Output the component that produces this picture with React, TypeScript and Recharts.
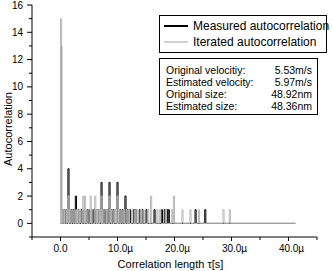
import React from "react";
import { LineChart, Line, XAxis, YAxis } from "recharts";

// peak positions in microseconds and their heights
const measuredTimes = [
  0.0, 0.3, 0.6, 0.9, 1.3, 1.8, 2.2, 2.6, 3.1, 3.6, 4.1, 4.6, 4.9, 5.4, 5.8,
  6.2, 6.6, 7.1, 7.5, 7.9, 8.3, 8.5, 8.9, 9.2, 9.9, 10.4, 10.8, 11.3, 11.7,
  12.1, 12.8, 13.1, 13.8, 14.3, 15.0, 16.4, 17.7, 18.2, 18.6, 18.9, 23.6,
  25.3,
];
const measuredHeights = [
  13, 1, 1, 1, 4, 1, 1, 2, 1, 1, 1, 1, 1, 1, 1, 1, 1, 3, 1, 1, 1, 3, 1, 1, 3,
  1, 1, 2, 1, 1, 1, 1, 1, 1, 1, 1, 1, 1, 1, 1, 1, 1,
];

const iteratedTimes = [
  0.0, 0.2, 0.5, 0.8, 1.1, 1.3, 1.6, 2.0, 2.4, 2.8, 3.1, 3.4, 3.9, 4.2, 4.4,
  4.8, 5.2, 5.5, 6.0, 6.3, 6.6, 6.9, 7.1, 7.4, 7.8, 8.1, 8.5, 8.7, 9.0, 9.4,
  9.6, 9.9, 10.2, 10.6, 11.0, 11.5, 11.9, 12.5, 13.0, 13.4, 14.0, 14.5, 15.3,
  15.8, 16.9, 17.4, 18.4, 19.5, 19.8, 21.3, 22.7, 24.2, 28.5, 29.6,
];
const iteratedHeights = [
  15, 1, 1, 1, 1, 2, 1, 1, 1, 1, 1, 1, 2, 2, 1, 1, 2, 1, 2, 1, 1, 1, 2, 1, 1,
  1, 2, 1, 1, 1, 1, 2, 1, 1, 1, 1, 1, 1, 1, 1, 1, 1, 1, 2, 1, 1, 1, 1, 2, 1,
  1, 1, 1, 1,
];

const lastTime = 41.2;

const xTicks = [-5, 0, 5, 10, 15, 20, 25, 30, 35, 40, 45];
const yTicks = [-1, 0, 1, 2, 3, 4, 5, 6, 7, 8, 9, 10, 11, 12, 13, 14, 15, 16];

const infoLabels = [
  "Original velocitiy:",
  "Estimated velocity:",
  "Original size:",
  "Estimated size:",
];
const infoValues = ["5.53m/s", "5.97m/s", "48.92nm", "48.36nm"];

const FONT = "'Liberation Sans', Arial, sans-serif";
const GRAY = "#b8b8b8";

// turn peaks into narrow pulses sitting on the zero line
const toPulses = (times: number[], heights: number[]) => {
  const pts: { x: number; y: number }[] = [];
  const w = 0.2;
  times.forEach((t, i) => {
    pts.push({ x: t, y: 0 }, { x: t, y: heights[i] });
    pts.push({ x: t + w, y: heights[i] }, { x: t + w, y: 0 });
  });
  pts.push({ x: lastTime, y: 0 });
  return pts;
};

const measured = toPulses(measuredTimes, measuredHeights);
const iterated = toPulses(iteratedTimes, iteratedHeights);

const YTick = (props: any) => {
  const { x, y, payload } = props;
  const v = payload.value;
  const ax = x + 8;
  const major = v % 2 === 0;
  return (
    <g>
      <line x1={ax} x2={ax - (major ? 5 : 3)} y1={y} y2={y} stroke="#000" />
      {major && v >= 0 && (
        <text x={x - 1} y={y + 3.6} textAnchor="end" fontSize={10} fontFamily={FONT} fill="#000">
          {v}
        </text>
      )}
    </g>
  );
};

const XTick = (props: any) => {
  const { x, y, payload } = props;
  const v = payload.value;
  const ay = y - 8;
  const major = v % 10 === 0;
  return (
    <g>
      <line x1={x} x2={x} y1={ay} y2={ay + (major ? 4 : 3)} stroke="#000" />
      {major && v >= 0 && (
        <text x={x + (v === 0 ? 0 : 3)} y={ay + 15} textAnchor="middle" fontSize={10} fontFamily={FONT} fill="#000">
          {v === 0 ? "0.0" : `${v}.0\u00b5`}
        </text>
      )}
    </g>
  );
};

export default function App() {
  return (
    <div style={{ position: "absolute", left: 0, top: 0, width: 333, height: 271, background: "#fff", fontFamily: FONT }}>
      <LineChart width={333} height={271} margin={{ top: 5, right: 16, left: 0, bottom: 0 }}>
        <XAxis
          dataKey="x"
          type="number"
          domain={[-5, 45]}
          ticks={xTicks}
          interval={0}
          tick={<XTick />}
          tickLine={false}
          tickSize={4}
          tickMargin={4}
          height={34}
          stroke="#000"
          label={{ value: "Correlation length \u03c4[s]", position: "insideBottom", offset: 3, dx: -4, fontSize: 11, fontFamily: FONT, fill: "#000" }}
        />
        <YAxis
          type="number"
          domain={[-1, 16]}
          ticks={yTicks}
          interval={0}
          tick={<YTick />}
          tickLine={false}
          tickSize={5}
          tickMargin={3}
          width={32}
          stroke="#000"
          label={{ value: "Autocorrelation", angle: -90, position: "insideLeft", offset: 8, dy: 8, fontSize: 11, fontFamily: FONT, fill: "#000", style: { textAnchor: "middle" } }}
        />
        <Line data={measured} dataKey="y" type="linear" stroke="#000" strokeWidth={1} dot={false} isAnimationActive={false} />
        <Line data={iterated} dataKey="y" type="linear" stroke={GRAY} strokeWidth={1} dot={false} isAnimationActive={false} />
      </LineChart>

      <div style={{ position: "absolute", left: 159, top: 15, width: 168, height: 38, border: "1px solid #000", boxSizing: "border-box", fontSize: 12, lineHeight: "16px", whiteSpace: "nowrap" }}>
        <div style={{ position: "absolute", left: 4, top: 2, display: "flex", alignItems: "center" }}>
          <span style={{ display: "inline-block", width: 24, height: 2, background: "#000", marginRight: 5, flexShrink: 0 }} />
          Measured autocorrelation
        </div>
        <div style={{ position: "absolute", left: 4, top: 18, display: "flex", alignItems: "center" }}>
          <span style={{ display: "inline-block", width: 24, height: 2, background: "#d0d0d0", marginRight: 5, flexShrink: 0 }} />
          Iterated autocorrelation
        </div>
      </div>

      <div style={{ position: "absolute", left: 159, top: 58, width: 159, height: 57, border: "1px solid #000", boxSizing: "border-box", fontSize: 10.5, lineHeight: "12px", padding: "5px 5px 0 6px", whiteSpace: "nowrap" }}>
        {infoLabels.map((l, i) => (
          <div key={l} style={{ display: "flex", justifyContent: "space-between" }}>
            <span>{l}</span>
            <span>{infoValues[i]}</span>
          </div>
        ))}
      </div>
    </div>
  );
}
